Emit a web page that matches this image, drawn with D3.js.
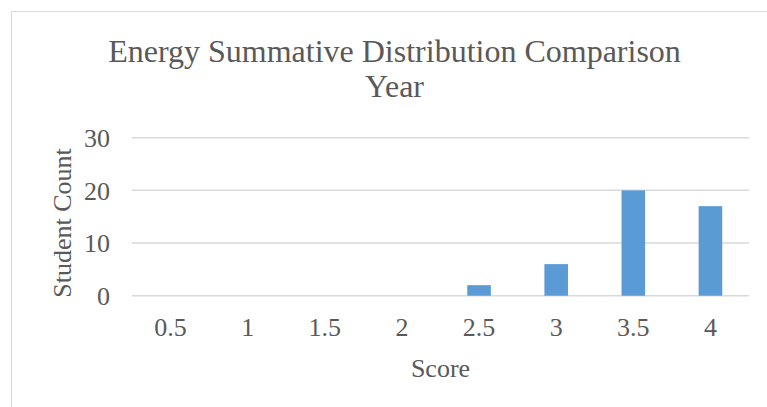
<!DOCTYPE html>
<html>
<head>
<meta charset="utf-8">
<script src="https://cdn.jsdelivr.net/npm/d3@7"></script>
<style>
  body { margin: 0; background: #fff; }
  svg { display: block; }
  text { font-family: "Liberation Serif", "Times New Roman", serif; fill: #595959; }
</style>
</head>
<body>
<svg></svg>
<script>
// chart data
var scores = ["0.5", "1", "1.5", "2", "2.5", "3", "3.5", "4"];
var counts = [0, 0, 0, 0, 2, 6, 20, 17];
var yTicks = [0, 10, 20, 30];
var titleLines = ["Energy Summative Distribution Comparison", "Year"];

var W = 767, H = 407;
var plot = { left: 132, right: 749, top: 137.7, bottom: 295.7 };

var svg = d3.select("svg")
    .attr("width", W)
    .attr("height", H);

// chart area border (runs off the right/bottom of the picture)
svg.append("rect")
    .attr("x", 11.5)
    .attr("y", 11.5)
    .attr("width", 820)
    .attr("height", 500)
    .attr("fill", "#fff")
    .attr("stroke", "#d9d9d9")
    .attr("stroke-width", 1);

var x = d3.scaleBand()
    .domain(scores)
    .range([plot.left, plot.right])
    .paddingInner(0.694)
    .paddingOuter(0.347);

var y = d3.scaleLinear()
    .domain([0, 30])
    .range([plot.bottom, plot.top]);

// gridlines
svg.append("g")
    .selectAll("line")
    .data(yTicks)
    .enter().append("line")
    .attr("x1", plot.left)
    .attr("x2", plot.right)
    .attr("y1", function (d) { return y(d); })
    .attr("y2", function (d) { return y(d); })
    .attr("stroke", "#d9d9d9")
    .attr("stroke-width", 1.5);

// bars
svg.append("g")
    .selectAll("rect")
    .data(counts)
    .enter().append("rect")
    .attr("x", function (d, i) { return x(scores[i]); })
    .attr("width", x.bandwidth())
    .attr("y", function (d) { return y(d); })
    .attr("height", function (d) { return y(0) - y(d); })
    .attr("fill", "#5b9bd5");

// y axis labels
var yAxis = svg.append("g")
    .attr("transform", "translate(" + plot.left + ",0)")
    .call(d3.axisLeft(y).tickValues(yTicks).tickSize(0).tickFormat(d3.format("d")));
yAxis.select(".domain").remove();
yAxis.selectAll("text")
    .attr("x", -22)
    .attr("dy", "0.34em")
    .style("font-size", "26px")
    .style("font-family", "'Liberation Serif', 'Times New Roman', serif")
    .attr("fill", "#595959");

// x axis labels
var xAxis = svg.append("g")
    .attr("transform", "translate(0," + plot.bottom + ")")
    .call(d3.axisBottom(x).tickSize(0));
xAxis.select(".domain").remove();
xAxis.selectAll("text")
    .attr("y", 40)
    .attr("dy", null)
    .style("font-size", "26px")
    .style("font-family", "'Liberation Serif', 'Times New Roman', serif")
    .attr("fill", "#595959");

// title
svg.append("g")
    .selectAll("text")
    .data(titleLines)
    .enter().append("text")
    .attr("x", 394.5)
    .attr("y", function (d, i) { return 61.5 + i * 35.5; })
    .attr("text-anchor", "middle")
    .style("font-size", "32px")
    .text(function (d) { return d; });

// axis titles
svg.append("text")
    .attr("x", (plot.left + plot.right) / 2)
    .attr("y", 377)
    .attr("text-anchor", "middle")
    .style("font-size", "26px")
    .text("Score");

svg.append("text")
    .attr("transform", "translate(70.5," + 223 + ") rotate(-90)")
    .attr("text-anchor", "middle")
    .style("font-size", "26px")
    .text("Student Count");
</script>
</body>
</html>
